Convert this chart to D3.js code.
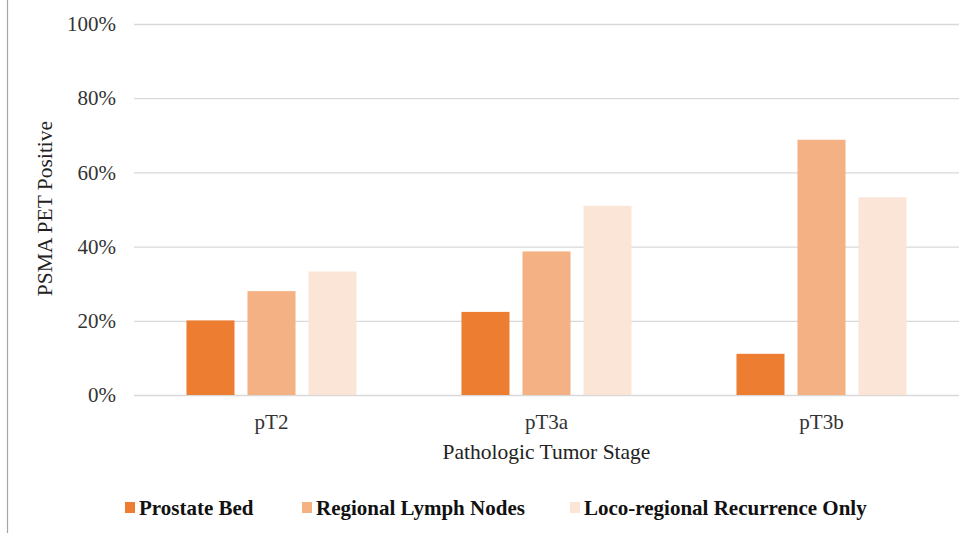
<!DOCTYPE html>
<html lang="en">
<head>
<meta charset="utf-8">
<style>
  body { margin: 0; background: white; }
  svg { font-family: 'Liberation Serif', 'Times New Roman', serif; }
  .grid line { stroke: #d9d9d9; stroke-width: 1.3; }
  .tick text { fill: #333; font-size: 21px; }
  .legend text { font-weight: bold; font-size: 21px; fill: #111; }
</style>
</head>
<body>
<svg width="969" height="533"></svg>
<script src="https://d3js.org/d3.v7.min.js"></script>
<script>
const stages = ["pT2", "pT3a", "pT3b"]
const seriesNames = ["Prostate Bed", "Regional Lymph Nodes", "Loco-regional Recurrence Only"]
const prostateBed = [20.1, 22.4, 11.1]
const lymphNodes = [28.0, 38.7, 68.8]
const locoRegional = [33.3, 51.0, 53.3]
const yTicks = [0, 20, 40, 60, 80, 100]
const colors = ["#ED7D31", "#F4B183", "#FBE5D6"]

const seriesValues = [prostateBed, lymphNodes, locoRegional]

const svg = d3.select("svg")
const margin = { left: 134, right: 10, top: 24, bottom: 138 }
const width = 969, height = 533

const x = d3.scaleBand().domain(stages).range([margin.left, width - margin.right])
const xs = d3.scaleBand().domain(seriesNames).range([0, x.bandwidth()]).paddingInner(0.213).paddingOuter(0.86)
const y = d3.scaleLinear().domain([0, 100]).range([height - margin.bottom, margin.top])

// left frame line
svg.append("line")
  .attr("x1", 7.5).attr("x2", 7.5).attr("y1", 0).attr("y2", height)
  .attr("stroke", "#a6a6a6").attr("stroke-width", 1.2)

// gridlines + y labels
const yAxis = svg.append("g")
  .attr("class", "grid")
  .attr("transform", "translate(" + margin.left + ",0)")
  .call(d3.axisLeft(y).tickValues(yTicks).tickFormat(d => d + "%")
    .tickSize(-(width - margin.left - margin.right)).tickPadding(18))
yAxis.select(".domain").remove()
yAxis.selectAll(".tick text").attr("font-family", "'Liberation Serif', serif")

// x labels
const xAxis = svg.append("g")
  .attr("transform", "translate(0," + y(0) + ")")
  .call(d3.axisBottom(x).tickSize(0).tickPadding(19))
xAxis.select(".domain").remove()
xAxis.selectAll(".tick text").attr("font-family", "'Liberation Serif', serif")

// bars
const groups = svg.append("g").selectAll("g")
  .data(stages)
  .join("g")
  .attr("transform", d => "translate(" + x(d) + ",0)")

groups.selectAll("rect")
  .data((d, i) => seriesNames.map((s, j) => ({ s: s, v: seriesValues[j][i], j: j })))
  .join("rect")
  .attr("x", d => xs(d.s))
  .attr("width", xs.bandwidth())
  .attr("y", d => y(d.v))
  .attr("height", d => y(0) - y(d.v))
  .attr("fill", d => colors[d.j])

// axis titles
svg.append("text")
  .attr("transform", "translate(52," + (y(50) - 1) + ") rotate(-90)")
  .attr("text-anchor", "middle")
  .attr("font-size", 21.5)
  .attr("fill", "#222")
  .text("PSMA PET Positive")

svg.append("text")
  .attr("x", x("pT3a") + x.bandwidth() / 2)
  .attr("y", 459)
  .attr("text-anchor", "middle")
  .attr("font-size", 21.5)
  .attr("fill", "#222")
  .text("Pathologic Tumor Stage")

// legend
const legendX = [125, 302, 570]
const legend = svg.append("g").attr("class", "legend")
  .selectAll("g")
  .data(seriesNames)
  .join("g")
  .attr("transform", (d, i) => "translate(" + legendX[i] + ",502)")
legend.append("rect").attr("width", 10).attr("height", 11).attr("fill", (d, i) => colors[i])
legend.append("text").attr("x", 14).attr("y", 13).text(d => d)
</script>
</body>
</html>
